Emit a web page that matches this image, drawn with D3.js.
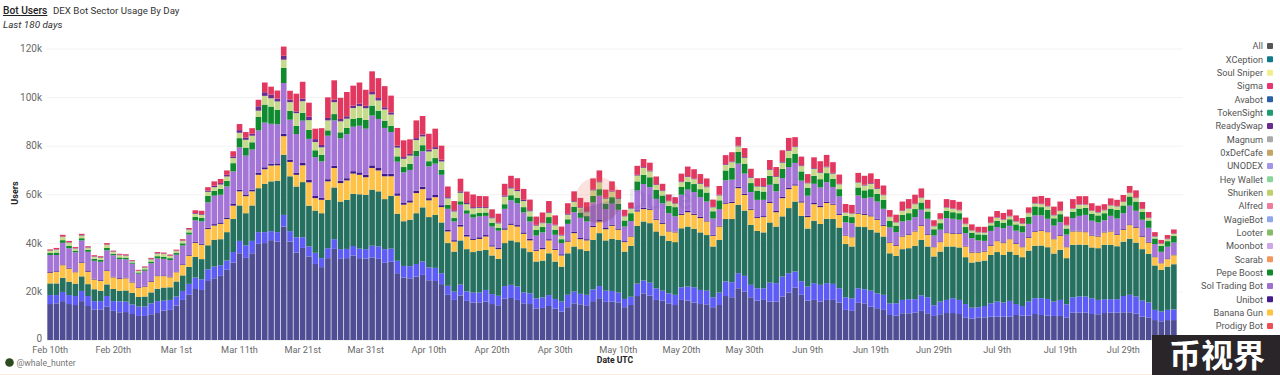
<!DOCTYPE html>
<html lang="en">
<head>
<meta charset="UTF-8">
<title>Bot Users</title>
<script src="https://d3js.org/d3.v7.min.js"></script>
<style>
  html, body { margin: 0; padding: 0; background: #fff; overflow: hidden; }
  svg { display: block; font-family: Roboto, sans-serif; }
  .axis text { fill: #6a6a6a; font-size: 10px; font-family: Roboto, sans-serif; }
  .axis.x text { font-size: 9.2px; }
  .axis .domain { display: none; }
  .y .tick line { stroke: #f2f2f2; }
  .x .tick line { display: none; }
</style>
</head>
<body>
<svg width="1280" height="375"></svg>
<script>
// daily values in thousands of users, bottom of the stack first
const bottomSeries = [14.8,15.1,16,14.8,14.4,16,14,12.6,12.6,13.7,
  12,11.4,11.5,10.7,9.9,9.9,10.6,11.1,12.1,12.4,
  14.2,16.5,18.6,21,20.6,24.3,25.4,26.4,28.9,31.9,
  35.7,33.8,35.7,39.6,39.9,41.1,40.5,46.7,40.5,36,
  37.9,34.4,31.3,30,33.7,37.5,33.4,33.7,34.8,33.7,
  33.5,34,33.4,31.8,32.2,27.5,25.7,25.4,26.1,26.8,
  24.6,24.3,23,18.6,16.5,18.3,16.1,15.4,15.5,15.8,
  14.8,14.3,17,17.3,16.5,15.1,14.8,13,13.2,14,
  12.9,11.7,13.5,15.1,14.7,14.3,16,17.2,15.7,15.8,
  15.5,13.5,14.4,18.1,19.2,18.3,16.5,16.2,15.1,14.4,
  16.5,16.2,15.4,14.8,14.7,13.5,14.4,18.1,17.6,21.3,
  19.9,17.6,16.2,16.5,15.8,15.8,17.9,19.5,21.6,18.6,
  16.2,16.5,15.8,16.5,16.5,15.4,12.4,12,15.3,15.1,
  13.7,13.1,12.4,10.3,10,11,11,11.3,12,11,
  9.9,10.6,11.1,11.1,10.7,9.3,8.8,9.3,9.3,9.6,
  9.6,9.6,9.6,10.3,10,10,10.7,10.3,10,9.9,
  9.9,9.3,11.3,11.3,11.3,10.7,10.6,11.1,11.3,11.3,
  11.4,11.4,10.9,9.6,9.3,8.2,7.7,8.2,8.2];
const blueSeries = [3.7,3.4,3.8,3.7,3.7,4.2,4.1,3.4,3.4,4.4,
  4,4.5,4.3,3.9,3.9,3.9,4.5,4.9,4.1,4.1,
  3.7,3.7,4.5,4.7,4.4,4.8,4.8,4.4,3.8,4.3,
  5.1,5.2,5.1,4.8,4.5,3.7,3.9,4.8,4.3,6.3,
  4.4,4.1,4.6,3.7,4.1,4,4,3.8,3.9,3.9,
  3.9,4.8,5.1,5.6,5.4,5.1,4.8,5,5.2,5.5,
  5.3,5.4,4.5,3.7,3.4,4.5,3.9,4.1,4.1,4.8,
  4.1,3.9,5.2,5.4,5.5,4.5,4.4,4.1,4.3,4.5,
  4,4.1,5.1,4.8,4.3,4.3,4.8,5,4.6,4.4,
  4,3.4,3.4,5.1,5.3,5.3,4.8,4.1,4.1,4.2,
  5.2,5.8,6.3,5.8,5.6,4.1,5.1,6,6.2,6.2,
  6.5,5.1,5.1,4.8,7.8,7.6,8.2,8,6.6,5.6,
  5.8,6.9,6.9,6.9,6.6,5.9,5.2,5.2,6,5.8,
  6.6,6.1,6.2,4.8,5.1,5.5,5.8,5.5,6.4,6.6,
  4.4,5.2,5.4,6.1,5.8,5.5,4.5,4.2,4.7,5.5,
  6.2,5.8,6.5,4.5,4,5.8,6.5,6.9,6.9,5.9,
  6.6,5.4,6.3,6.6,6.6,6.5,5.9,5.7,5.5,5.5,
  6.7,7.2,7,6.6,6.1,4.2,4,4.2,4.4];
const tealSeries = [4.8,4.8,5.8,5.5,5.1,6,4.9,4.9,4.3,4.8,
  5,4.4,4.6,4.8,3.9,4.1,4.5,5.1,5.4,5.2,
  6.2,6.4,7,8.5,8.3,9.9,11,10.7,11.7,13.6,
  14.6,13.2,14.6,18.1,19.9,20.5,21.2,24.8,22.6,20.9,
  22.7,16.8,17.4,18.5,19.9,21.3,19.6,20.2,21.5,22.4,
  22.4,23.1,22.7,20.6,21.8,19.4,18.4,19.1,20.9,22.3,
  20.7,21.8,20.9,17.6,16.5,18.2,17.4,16.7,17.2,16.5,
  15.9,15.2,17.7,18.3,18.3,18.2,17,15.2,15.2,17.2,
  15.4,14.4,17.1,18.6,18.4,18.1,20.4,21.8,20.7,21.4,
  21.7,19.5,21,23.8,24.3,24.5,23.4,22.7,21.6,21.7,
  24.3,24.7,24.1,23.7,22.9,20.9,21.7,25.7,26,28.2,
  26.9,24.7,23.6,23,24.8,23.3,24.8,26.8,28.8,26.9,
  23.9,25.7,25.1,26.5,26.7,25,21.9,21.3,25.4,25.6,
  25.1,25.1,24,20.6,19.5,20.9,21,22,22.8,20.9,
  20.1,20.6,22,21.3,21.6,19.3,18.6,18.8,18.7,19.9,
  20.4,19.6,20.3,20.2,20.1,21,21.6,21.7,21.3,19.8,
  20.6,19,21.6,21.4,21.3,20.9,21.3,22.4,22.4,21.8,
  22.4,23.1,22.2,21.2,20.1,18.3,17.2,17.8,18.6];
const bananaGun = [4.4,4.7,5.2,5.4,4.7,5.5,5.1,4,4.1,5.5,
  4.8,4.9,5,4.3,3.7,4.1,4.4,5.2,4.7,4.1,
  3.8,4.3,4.6,5.8,5.9,6.7,5.9,6.3,5.4,5.5,
  5.8,7,5.8,5.5,6,6.5,6.3,7.6,5.9,4.8,
  6.9,9.6,5.1,5.5,7.6,8,7.6,8,8.3,8,
  7.2,8.9,8.6,9.4,8,7.4,6.8,7.1,8.3,7.5,
  6.9,7.3,6.3,4.8,4.1,5.7,5.2,5,4.8,5.5,
  3.7,4,5.5,6.4,6.4,5.9,4.8,4.4,4.7,5.3,
  4.8,4.6,4.8,5.5,4.1,4.3,5.3,4.8,4.6,5.4,
  4.2,3.9,3.8,5.9,5.1,5.5,4.8,4.8,3.9,4,
  5.5,5.9,5.7,5.9,5.6,4.4,5.5,6.3,6.6,6.8,
  6.4,6.2,5.3,6.3,8,5.9,7.5,7.8,6.6,5.5,
  4.7,6.8,6.9,6.5,5.9,5.2,3.5,3.8,5.3,5,
  5.5,5.2,4.4,4.4,4.2,5.2,5.5,5.9,5.8,4.8,
  3.8,3.9,5.5,5.2,5.6,4.4,4.1,3.7,3.7,3.8,
  4.5,4.9,5.1,4.6,4.1,5.3,5.7,6,6.2,5.9,
  5.8,4.5,5.5,5.4,5.2,4.9,4.8,5.1,5.5,4.7,
  4.9,5.6,6.1,5.1,4.6,3.4,2.7,3.1,3.7];
const unibot = [.3,.3,.3,.3,.3,.3,.3,.3,.3,.3,
  .3,.3,.3,.3,.3,.3,.3,.3,.3,.3,
  .3,.3,.3,.4,.4,.5,.6,.6,.6,.7,
  .7,.7,.7,.8,.8,.8,.8,1,1,.9,
  1,1,.9,.8,.9,.9,1,.9,1,1,
  1,1.1,1,1,1,1,.9,.9,1,1,
  .9,.9,.8,.6,.6,.7,.7,.6,.7,.6,
  .5,.5,.6,.6,.6,.6,.6,.5,.5,.5,
  .5,.5,.5,.5,.5,.5,.6,.6,.5,.5,
  .5,.4,.4,.5,.5,.5,.4,.4,.4,.3,
  .5,.5,.5,.5,.4,.4,.4,.5,.5,.6,
  .5,.4,.4,.4,.4,.5,.5,.5,.5,.5,
  .5,.5,.5,.5,.4,.4,.3,.3,.4,.4,
  .4,.4,.4,.3,.3,.3,.3,.3,.3,.3,
  .3,.3,.3,.3,.3,.3,.3,.3,.3,.3,
  .3,.3,.3,.3,.3,.3,.3,.3,.3,.3,
  .3,.3,.3,.3,.3,.3,.3,.3,.3,.3,
  .3,.3,.3,.3,.3,.3,.3,.3,.3];
const solTradingBot = [7,6.7,8.9,8.1,7.9,9,7.9,7.4,7.5,8.2,
  8.8,7.8,7.5,7.4,5.6,6.2,7.3,7,6.8,6.8,
  6.9,7.7,8.4,8.9,9.2,10.5,11.7,11.4,12.8,13.4,
  17.4,16,16.5,17.5,18.4,16.4,16.1,20.9,16.4,15.9,
  17.4,16.9,16,15,17.9,18.7,17.4,18.1,18.3,19.2,
  19,20.5,20.2,18.9,17.2,13,12.4,12.5,14.1,14.6,
  13.1,12.9,12.5,8.7,7.7,8.3,8.7,8.6,8.6,7.9,
  7.7,7.1,8,9.5,9,8.2,7.2,5.8,6.4,6.5,
  5.7,4.6,6.8,8.1,8.3,7.3,9.5,10,7.8,8.6,
  7.7,6,6,8.2,9.8,8.8,8.2,8.1,7.1,6.3,
  7.8,8.8,8.9,8.1,7.8,6.7,6.8,9.1,9.1,9.5,
  8.3,6.9,7.1,6.7,7.1,8.1,7.8,8.6,8.8,8.5,
  8.3,7.9,7.6,8.1,6.9,7.2,5.2,5.5,7.1,6.5,
  7.4,7.1,6.6,5.9,5.3,5.9,5.6,5.6,6.3,6.3,
  4.5,4.8,5.9,5.9,5.5,5.2,5.6,4.7,4.1,5.8,
  5.5,5.8,5.2,5.1,5.8,5.4,6.5,6.1,5.2,5.3,
  5.3,4.9,5.2,6.1,6.8,5.8,5.5,4.7,6.1,6.4,
  6.5,7.7,6.7,6.7,5.8,5.1,4.4,4.8,4.9];
const pepeBoost = [.8,1,1.1,1,.7,.9,.8,.8,.8,1,
  .6,.7,.7,.5,.5,.6,.7,.9,.9,.8,
  .7,.9,.9,1.4,1.5,2.6,2,2.4,2.3,3.4,
  3.8,3.3,3,5.5,7.4,7.1,6,6.2,3.6,3.4,
  3.2,3.7,2.8,2.7,2.2,2.6,2.5,2.6,3.2,3.2,
  3.6,4.1,3.4,3,2.6,2.2,2.2,2.5,2.3,2.5,
  2.1,2.3,2.1,1.6,1.4,1.4,1.4,1.4,1.4,1.4,
  1.6,1.1,1.9,2.1,2.3,2.2,2.1,2.3,2.2,2.6,
  2.1,1.6,1.9,2.3,2.2,2.2,2.7,2.7,2.1,2.7,
  2.5,2.5,3.2,3.7,3.8,4.1,3.7,3.2,3,3.8,
  3.2,3.2,3.3,3.3,3.7,3,3.6,4.1,4.8,4.8,
  4.1,3.7,3.8,3.4,3.7,3.2,3.7,3.7,3.8,3.8,
  3.2,3.3,3.4,3.7,3.3,3,2.6,2.5,3.3,3.2,
  3.4,3.2,3.7,2.7,2.7,2.7,3,3.3,3,3,
  2.6,2.7,3,2.7,2.7,2.5,2.3,2.5,2.6,2.3,
  2.6,2.3,2.7,2.6,2.6,3,3.7,3.4,3.7,3,
  3.3,2.5,2.6,3,2.9,2.9,2.9,2.9,3,3.6,
  3.2,3.8,3.8,3.2,3,2.3,2.5,2.3,2.7];
const shuriken = [.9,1.2,1.4,1.3,.9,1.1,.9,.9,.9,1.3,
  .8,.9,.8,.5,.6,.7,.9,1.1,1.1,.9,
  .8,1,1.1,1.2,1.2,1.7,1.5,1.8,1.8,2.1,
  2.2,3.2,2.7,2.6,3.6,3.4,3.4,3.4,3.6,5.2,
  4.8,4,3.4,3.1,4.1,4.9,4.5,3.8,4.5,4.9,
  4.8,4.6,4.2,4.6,4.6,3.6,3.4,3.4,4.4,3.6,
  4,3.7,3.4,2.7,2.7,3.5,2.5,2.4,2.1,1.8,
  1.8,1.9,3.1,2.8,2.7,2.5,2.1,1.8,1.6,1.8,
  1.8,1.5,1.9,2,1.9,1.6,2.3,2.8,2.2,2.3,
  2,1.7,1.9,2.4,2.9,2.4,2,1.8,1.9,1.4,
  2,2,2,2.2,2.2,1.6,2,2.3,2.4,2.3,
  2.4,2.2,1.7,2,2.4,2.7,2.6,2.9,2.7,2.2,
  1.9,2.9,2.6,2.4,2.2,2,1.3,1.4,2,2,
  2.2,2,1.9,1.6,1.3,1.6,1.9,2,1.9,1.2,
  1.2,1.6,1.3,1.4,1.2,1.2,.9,.8,.8,.9,
  1.2,1.2,1.2,1.2,1,1.4,1.2,1.2,1.4,1.2,
  1.3,1.3,1.3,1.6,1.3,1.2,1.2,1.2,1.3,1.4,
  1.4,1.4,1.4,1.2,1,.8,.8,.8,.9];
const readySwap = [.2,.2,.2,.2,.2,.2,.2,.2,.2,.2,
  .2,.2,.2,.2,.2,.2,.2,.2,.2,.2,
  .2,.2,.2,.3,.3,.5,.6,.6,.7,.7,
  1.1,1,.8,1.8,1.5,1.5,1.2,1.6,1.1,.7,
  1.1,1.4,1.2,1,1,1,1,1,1,1,
  1,1,1,.9,.9,.8,.7,.7,.8,.8,
  .8,.8,.7,.5,.5,.6,.5,.5,.4,.4,
  .4,.4,.5,.5,.5,.5,.4,.3,.3,.3,
  .3,.3,.3,.3,.3,.3,.4,.4,.3,.4,
  .3,.2,.2,.3,.3,.3,.3,.3,.2,.2,
  .3,.3,.3,.3,.3,.2,.3,.3,.3,.3,
  .3,.3,.2,.3,.3,.3,.3,.3,.3,.3,
  .2,.3,.3,.3,.3,.2,.2,.2,.2,.3,
  .3,.3,.2,.2,.2,.2,.2,.2,.2,.2,
  .2,.2,.2,.2,.2,.2,.2,.2,.2,.2,
  .2,.2,.2,.2,.2,.2,.2,.2,.2,.2,
  .2,.2,.2,.2,.2,.2,.2,.2,.2,.2,
  .2,.2,.2,.2,.2,.2,.2,.2,.2];
const sigma = [.4,.5,.6,.5,.4,.5,.4,.4,.4,.5,
  .3,.4,.4,.3,.3,.3,.4,.4,.4,.4,
  .4,.5,.5,1.2,1.4,1.4,1.8,1.7,1.8,2.1,
  2.5,2.2,2.3,2.7,4,3.3,3.3,3.8,3.6,7.3,
  6.9,5.8,4.3,6.9,8.5,8,8.7,10,8.2,8.7,
  6.6,8.5,8.2,8.7,6.9,7.3,6.9,6,7.3,7.6,
  6.5,7.6,5.8,4.4,3.8,5.2,4.7,5.2,4.5,4.5,
  3.3,3.6,4.8,4.7,4.8,4.5,4.4,3.4,4.1,4.5,
  3.8,3.4,4.4,4,3.8,3.8,4.5,4.5,3.4,3.8,
  3.4,2.5,2.3,3.7,3.3,3.3,3.2,2.7,2.6,2.5,
  3.2,4,3.8,3.7,3.3,3,3.6,3.7,3.8,3.6,
  3.7,3.4,3.2,3.3,3.8,3.8,4.8,5.1,3.8,3.6,
  3.6,4.4,4.5,4.8,4.4,3.8,3.4,3.4,3.8,3.7,
  4,3.8,3.8,2.7,3,3.7,3.7,3.7,3.7,3.4,
  2.3,2.3,3.3,3.4,3.3,2.5,2.3,2.1,2.2,2.5,
  2.6,2.6,2.6,2.3,2.1,2.2,2.6,3.2,3.3,3.4,
  3.7,3.4,3.7,3.3,3.3,2.9,2.6,2.3,2.7,2.5,
  2.7,2.7,3,2.7,2.3,1.6,1.4,1.5,1.6];

const seriesNames = ["Base", "Blue", "Teal", "Banana Gun", "Unibot", "Sol Trading Bot", "Pepe Boost", "Shuriken", "ReadySwap", "Sigma"];
const seriesValues = [bottomSeries, blueSeries, tealSeries, bananaGun, unibot, solTradingBot, pepeBoost, shuriken, readySwap, sigma];
const seriesColors = ["#4f4d94", "#5d5df5", "#26705f", "#fdc247", "#3f1a8a", "#a475d6", "#0f8a2f", "#c7da8c", "#6b2c8f", "#e2375f"];

const legendNames = ["All", "XCeption", "Soul Sniper", "Sigma", "Avabot", "TokenSight", "ReadySwap", "Magnum", "0xDefCafe", "UNODEX", "Hey Wallet", "Shuriken", "Alfred", "WagieBot", "Looter", "Moonbot", "Scarab", "Pepe Boost", "Sol Trading Bot", "Unibot", "Banana Gun", "Prodigy Bot"];
const legendColors = ["#555555", "#0f7a8a", "#f2ee8e", "#e6346e", "#2b5fa6", "#1f9b72", "#6b2c91", "#aaaaaa", "#c4a565", "#a595e6", "#8bd59b", "#c0d06c", "#f07b9d", "#90a9ea", "#87ba68", "#cfa7e8", "#f4975d", "#12892f", "#a070d0", "#421c8c", "#fdc341", "#ee4f56"];

const yTicks = [0, 20000, 40000, 60000, 80000, 100000, 120000];

const days = bottomSeries.map((_, i) => d3.utcDay.offset(new Date(Date.UTC(2024, 1, 10)), i));
const rows = days.map((d, i) => {
  const row = { date: d };
  seriesNames.forEach((n, s) => { row[n] = seriesValues[s][i] * 1000; });
  return row;
});

const svg = d3.select("svg");

const x = d3.scaleBand().domain(days).range([47, 1177]).paddingInner(0.11).paddingOuter(0.05);
const y = d3.scaleLinear().domain([0, 120000]).range([340, 48.5]);

function ordinal(n) {
  if (n % 10 === 1 && n !== 11) return n + "st";
  if (n % 10 === 2 && n !== 12) return n + "nd";
  if (n % 10 === 3 && n !== 13) return n + "rd";
  return n + "th";
}
const dateLabel = d => d3.utcFormat("%b ")(d) + ordinal(d.getUTCDate());

// y axis and grid
svg.append("g")
  .attr("class", "axis y")
  .attr("transform", "translate(47,0)")
  .call(d3.axisLeft(y).tickValues(yTicks).tickSize(-1136).tickPadding(5)
    .tickFormat(v => v === 0 ? "0" : v / 1000 + "k"));
svg.select(".y .tick text").attr("dy", "0.1em");

// bars
const stack = d3.stack().keys(seriesNames);
svg.append("g")
  .selectAll("g")
  .data(stack(rows))
  .join("g")
  .attr("fill", (d, i) => seriesColors[i])
  .selectAll("rect")
  .data(d => d)
  .join("rect")
  .attr("x", d => x(d.data.date))
  .attr("width", x.bandwidth())
  .attr("y", d => y(d[1]))
  .attr("height", d => y(d[0]) - y(d[1]));

// x axis
svg.append("g")
  .attr("class", "axis x")
  .attr("transform", "translate(0,340)")
  .call(d3.axisBottom(x).tickValues(days.filter((d, i) => i % 10 === 0 && i < 175)).tickSize(0).tickPadding(6).tickFormat(dateLabel));

// axis titles
svg.append("text")
  .attr("transform", "translate(18,193) rotate(-90)")
  .attr("text-anchor", "middle")
  .attr("font-size", 9)
  .attr("font-weight", 700)
  .attr("fill", "#222")
  .text("Users");
svg.append("text")
  .attr("x", 615)
  .attr("y", 363)
  .attr("text-anchor", "middle")
  .attr("font-size", 8.6)
  .attr("font-weight", 700)
  .attr("fill", "#222")
  .text("Date UTC");

// title
svg.append("text")
  .attr("x", 3)
  .attr("y", 14)
  .attr("font-size", 10.2)
  .attr("font-weight", 500)
  .attr("fill", "#222")
  .attr("text-decoration", "underline")
  .text("Bot Users");
svg.append("text")
  .attr("x", 53)
  .attr("y", 14)
  .attr("font-size", 9.7)
  .attr("fill", "#333")
  .text("DEX Bot Sector Usage By Day");
svg.append("text")
  .attr("x", 3)
  .attr("y", 28)
  .attr("font-size", 9.9)
  .attr("font-style", "italic")
  .attr("fill", "#333")
  .text("Last 180 days");

// legend
const legend = svg.append("g")
  .selectAll("g")
  .data(legendNames)
  .join("g")
  .attr("transform", (d, i) => `translate(1263,${46 + i * 13.33})`);
legend.append("text")
  .attr("text-anchor", "end")
  .attr("dy", "0.35em")
  .attr("font-size", 9.2)
  .attr("fill", "#555")
  .text(d => d);
legend.append("rect")
  .attr("x", 4)
  .attr("y", -3)
  .attr("width", 6)
  .attr("height", 6)
  .attr("rx", 1)
  .attr("fill", (d, i) => legendColors[i]);

// faint logo over the bars
const defs = svg.append("defs");
defs.append("clipPath").attr("id", "logoClip")
  .append("circle").attr("cx", 598).attr("cy", 200).attr("r", 23);
svg.append("circle").attr("cx", 598).attr("cy", 200).attr("r", 23)
  .attr("fill", "#e8604f").attr("opacity", 0.18);
svg.append("g").attr("clip-path", "url(#logoClip)")
  .append("rect").attr("x", 570).attr("y", 204).attr("width", 60).attr("height", 24)
  .attr("transform", "rotate(-16 598 204)")
  .attr("fill", "#3c3c8c").attr("opacity", 0.2);
svg.append("text")
  .attr("x", 628)
  .attr("y", 209)
  .attr("font-size", 28)
  .attr("font-weight", 500)
  .attr("fill", "#3c3c8c")
  .attr("opacity", 0.1)
  .text("Dune");

// author
svg.append("circle").attr("cx", 9.5).attr("cy", 362.5).attr("r", 4.3).attr("fill", "#2f4a1e");
svg.append("text")
  .attr("x", 16.5)
  .attr("y", 366)
  .attr("font-size", 8.7)
  .attr("fill", "#777")
  .text("@whale_hunter");

// bottom edge and watermark
svg.append("rect").attr("x", 0).attr("y", 374).attr("width", 1280).attr("height", 1).attr("fill", "#fde9df");
svg.append("rect").attr("x", 1152).attr("y", 335).attr("width", 128).attr("height", 40).attr("fill", "#2a2528");
svg.append("text")
  .attr("x", 1217)
  .attr("y", 367)
  .attr("text-anchor", "middle")
  .attr("font-family", '"Noto Sans CJK SC"')
  .attr("font-size", 32)
  .attr("font-weight", 700)
  .attr("fill", "#fff")
  .text("币视界");
</script>
</body>
</html>
